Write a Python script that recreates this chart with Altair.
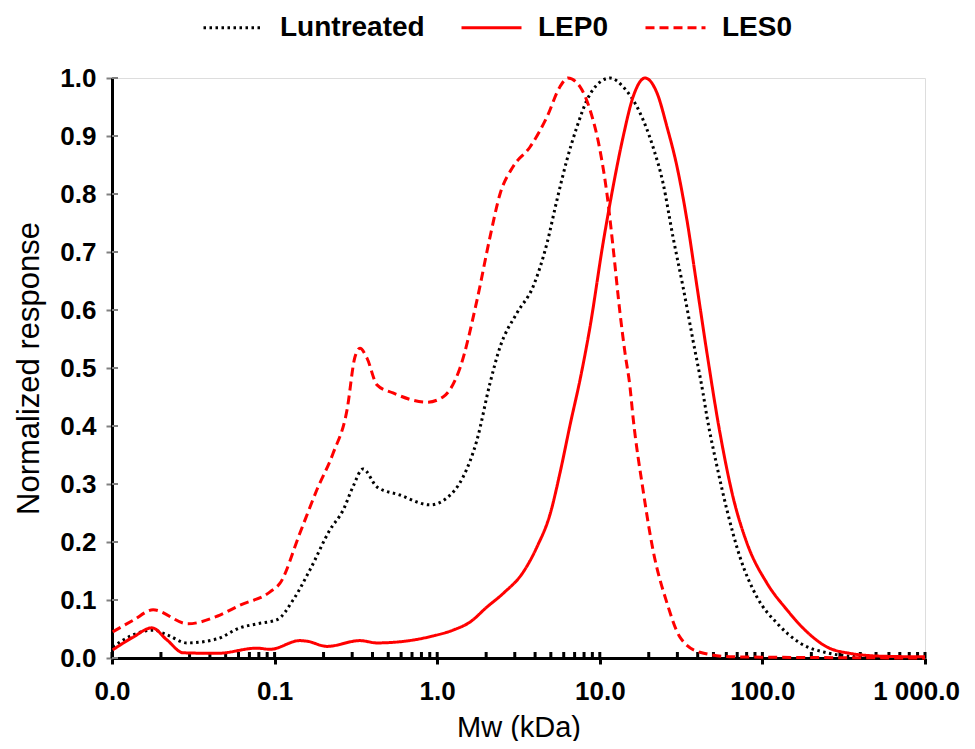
import altair as alt
import pandas as pd

# ---- data ----
series_names = ["Luntreated", "LEP0", "LES0"]

untreated_mw = [0.0101, 0.0135, 0.0179, 0.0218, 0.0289, 0.0443, 0.0612, 0.078, 0.1035, 0.130,
                0.165, 0.219, 0.264, 0.303, 0.350, 0.426, 0.590, 0.903, 1.148, 1.442,
                1.757, 2.113, 2.434, 3.097, 3.884, 4.733, 5.454, 6.28, 7.24, 8.34,
                10.02, 11.56, 13.90, 17.66, 21.25, 24.48, 28.19, 32.49, 37.41, 43.12,
                45.6, 52.6, 60.55, 72.8, 92.6, 123, 170, 249.5, 345.5, 552, 1000]
untreated_resp = [0.019, 0.040, 0.048, 0.040, 0.026, 0.033, 0.052, 0.059, 0.066, 0.100,
                  0.152, 0.221, 0.255, 0.295, 0.326, 0.295, 0.281, 0.264, 0.276, 0.312,
                  0.376, 0.474, 0.536, 0.595, 0.640, 0.715, 0.790, 0.859, 0.916, 0.962,
                  0.993, 1.000, 0.985, 0.940, 0.881, 0.819, 0.726, 0.640, 0.548, 0.457,
                  0.416, 0.330, 0.255, 0.174, 0.105, 0.060, 0.026, 0.009, 0.003, 0.0, 0.0]

lep0_mw = [0.0101, 0.0135, 0.0176, 0.0218, 0.0274, 0.0443, 0.078, 0.0938, 0.143, 0.158,
           0.210, 0.335, 0.426, 0.590, 0.942, 1.25, 1.592, 2.024, 2.56, 3.36,
           4.1, 4.97, 5.69, 6.6, 7.55, 8.71, 10.47, 12.06, 13.90, 16.0,
           18.97, 22.49, 25.88, 29.85, 34.36, 39.62, 45.6, 54.83, 65.92, 80.4,
           106.7, 141.6, 188, 249.5, 345.5, 552, 1000]
lep0_resp = [0.014, 0.036, 0.052, 0.031, 0.009, 0.008, 0.017, 0.015, 0.030, 0.029,
             0.020, 0.030, 0.026, 0.028, 0.038, 0.048, 0.062, 0.088, 0.112, 0.147,
             0.191, 0.250, 0.319, 0.405, 0.479, 0.571, 0.715, 0.812, 0.898, 0.967,
             1.000, 0.974, 0.916, 0.847, 0.755, 0.640, 0.526, 0.388, 0.278, 0.198,
             0.129, 0.083, 0.045, 0.019, 0.008, 0.003, 0.002]

les0_mw = [0.0101, 0.0135, 0.0179, 0.0293, 0.0443, 0.0612, 0.0938, 0.108, 0.143, 0.182,
           0.229, 0.279, 0.312, 0.335, 0.370, 0.426, 0.535, 0.865, 1.086, 1.381,
           1.757, 2.113, 2.434, 2.925, 3.723, 4.733, 5.69, 6.37, 7.55, 8.71,
           10.02, 11.07, 12.06, 13.31, 14.29, 15.34, 16.0, 18.44, 21.25, 25.88,
           31.12, 41.3, 65.92, 1000]
les0_resp = [0.045, 0.065, 0.083, 0.059, 0.072, 0.091, 0.114, 0.129, 0.215, 0.290,
             0.353, 0.428, 0.519, 0.534, 0.517, 0.471, 0.457, 0.441, 0.450, 0.500,
             0.617, 0.726, 0.800, 0.847, 0.881, 0.933, 0.985, 1.000, 0.985, 0.945,
             0.876, 0.800, 0.709, 0.595, 0.526, 0.467, 0.416, 0.290, 0.186, 0.095,
             0.036, 0.010, 0.002, 0.0]

x_major_ticks = [0.01, 0.1, 1, 10, 100, 1000]
x_minor_ticks = [m * d for d in [0.01, 0.1, 1, 10, 100] for m in range(2, 10)]
y_ticks = [0.0, 0.1, 0.2, 0.3, 0.4, 0.5, 0.6, 0.7, 0.8, 0.9, 1.0]

# ---- tables ----
rows = []
for name, xs, ys in [("Luntreated", untreated_mw, untreated_resp),
                     ("LEP0", lep0_mw, lep0_resp),
                     ("LES0", les0_mw, les0_resp)]:
    for i, (a, b) in enumerate(zip(xs, ys)):
        rows.append({"series": name, "Mw": a, "resp": b, "order": i})
df = pd.DataFrame(rows)
xticks_df = pd.DataFrame({"Mw": x_major_ticks + x_minor_ticks})
yticks_df = pd.DataFrame({"resp": y_ticks})

W, H = 813, 580
FONT = "Liberation Sans"

xscale = alt.Scale(type="log", domain=[0.01, 1000], nice=False)
yscale = alt.Scale(domain=[0, 1], nice=False)

legend = alt.Legend(
    title=None, orient="none", legendX=90, legendY=-82, direction="horizontal",
    symbolType="stroke", symbolSize=3600, symbolStrokeWidth=3,
    labelFont=FONT, labelFontSize=28, labelFontWeight="bold", labelColor="black",
    labelOffset=15, columnPadding=30,
)

lines = alt.Chart(df).mark_line(interpolate="monotone", strokeWidth=3).encode(
    x=alt.X("Mw:Q", scale=xscale, title="Mw (kDa)",
            axis=alt.Axis(values=x_major_ticks, grid=False,
                          labelExpr="datum.value >= 1000 ? '1 000.0' : format(datum.value, '.1f')",
                          labelOffset={"condition": {"test": "datum.value >= 1000", "value": -9}, "value": 0},
                          domainColor="black", domainWidth=3, tickColor="black", tickWidth=3,
                          tickSize=6, labelFont=FONT, labelFontSize=26, labelFontWeight="bold",
                          labelColor="black", labelPadding=14, labelFlush=False,
                          titleFont=FONT, titleFontSize=29, titleFontWeight="normal",
                          titleColor="black", titlePadding=9)),
    y=alt.Y("resp:Q", scale=yscale, title="Normalized response",
            axis=alt.Axis(values=y_ticks, format=".1f", grid=False,
                          domainColor="black", domainWidth=3, tickColor="#808080", tickWidth=2,
                          tickSize=6, labelFont=FONT, labelFontSize=26, labelFontWeight="bold",
                          labelColor="black", labelPadding=10,
                          titleFont=FONT, titleFontSize=31, titleFontWeight="normal",
                          titleColor="black", titlePadding=14)),
    color=alt.Color("series:N", scale=alt.Scale(domain=series_names, range=["black", "#FF0000", "#FF0000"]),
                    legend=legend),
    strokeDash=alt.StrokeDash("series:N", scale=alt.Scale(domain=series_names, range=[[2.5, 3.5], [1, 0], [9, 5]]),
                              legend=legend),
    order="order:Q",
)

x_in_ticks = alt.Chart(xticks_df).mark_rule(color="black", strokeWidth=3).encode(
    x=alt.X("Mw:Q", scale=xscale),
    y=alt.value(H),
    y2=alt.value(H - 6),
)

y_in_ticks = alt.Chart(yticks_df).mark_rule(color="#808080", strokeWidth=2).encode(
    y=alt.Y("resp:Q", scale=yscale),
    x=alt.value(0),
    x2=alt.value(6),
)

chart = alt.layer(x_in_ticks, y_in_ticks, lines).properties(
    width=W, height=H,
    padding={"left": 104, "top": 70, "right": 42, "bottom": 83},
    autosize=alt.AutoSizeParams(type="none"),
).configure_view(stroke="black", strokeWidth=3).configure(background="white")

chart.save("out.html", embed_options={"renderer": "svg", "actions": False})
